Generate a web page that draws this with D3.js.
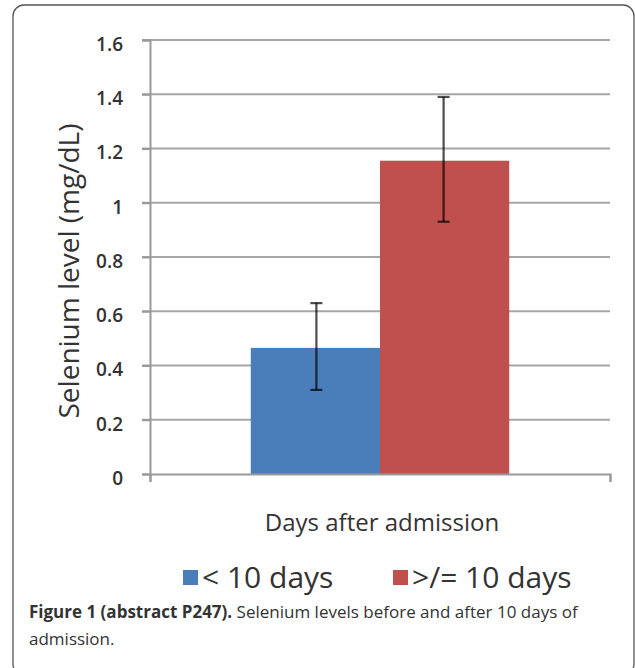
<!DOCTYPE html>
<html>
<head>
<meta charset="utf-8">
<script src="https://cdn.jsdelivr.net/npm/d3@7"></script>
<style>
  body { margin: 0; background: #fff; }
  svg { display: block; }
  text { font-family: "Open Sans", sans-serif; }
</style>
</head>
<body>
<svg width="635" height="668"></svg>
<script>
// data
const category = "Days after admission";
const groups = ["< 10 days", ">/= 10 days"];
const means = [0.465, 1.155];
const errLow = [0.31, 0.93];
const errHigh = [0.63, 1.39];
const colors = ["#4a7ebb", "#c0504d"];
const yTicks = [0, 0.2, 0.4, 0.6, 0.8, 1, 1.2, 1.4, 1.6];

const svg = d3.select("svg");
const plot = { left: 150, right: 610, top: 40, bottom: 474 };

// outer frame (bottom edge runs off the page)
svg.append("rect")
    .attr("x", 13).attr("y", 5)
    .attr("width", 621).attr("height", 670)
    .attr("rx", 11)
    .attr("fill", "none")
    .attr("stroke", "#555")
    .attr("stroke-width", 1.3);

const y = d3.scaleLinear()
    .domain([0, 1.6])
    .range([plot.bottom, plot.top]);

const x0 = d3.scaleBand()
    .domain([category])
    .range([plot.left, plot.right])
    .paddingInner(0)
    .paddingOuter(0.39);

const x1 = d3.scaleBand()
    .domain(groups)
    .range([0, x0.bandwidth()])
    .padding(0);

// gridlines
svg.append("g")
    .selectAll("line")
    .data(yTicks.filter(d => d > 0))
    .join("line")
    .attr("x1", plot.left - 8)
    .attr("x2", plot.right)
    .attr("y1", d => y(d))
    .attr("y2", d => y(d))
    .attr("stroke", "#a6a6a6")
    .attr("stroke-width", 2);

// y axis
svg.append("g")
    .attr("transform", `translate(${plot.left},0)`)
    .call(d3.axisLeft(y).tickValues(yTicks).tickSize(8).tickPadding(19)
        .tickFormat(d => d3.format("")(d)))
    .call(g => g.select(".domain").attr("stroke", "#999").attr("stroke-width", 2))
    .call(g => g.selectAll(".tick line").attr("stroke", "#999").attr("stroke-width", 2))
    .call(g => g.selectAll(".tick text")
        .attr("dy", "0.55em")
        .style("font-size", "19px")
        .style("font-weight", "600")
        .attr("fill", "#333"));

// bars
svg.append("g")
    .selectAll("rect")
    .data(groups)
    .join("rect")
    .attr("x", d => x0(category) + x1(d))
    .attr("y", (d, i) => y(means[i]))
    .attr("width", x1.bandwidth())
    .attr("height", (d, i) => y(0) - y(means[i]))
    .attr("fill", (d, i) => colors[i]);

// x axis
svg.append("g")
    .attr("transform", `translate(0,${plot.bottom})`)
    .call(d3.axisBottom(d3.scaleLinear().domain([0, 1]).range([plot.left, plot.right]))
        .tickValues([0, 1]).tickSize(8).tickFormat(""))
    .call(g => g.select(".domain").attr("stroke", "#999").attr("stroke-width", 2))
    .call(g => g.selectAll(".tick line").attr("stroke", "#999").attr("stroke-width", 2));

// error bars
const eb = svg.append("g")
    .attr("stroke", "#000")
    .attr("stroke-opacity", 0.7)
    .attr("stroke-width", 2.2);
groups.forEach((g, i) => {
    const cx = x0(category) + x1(g) + x1.bandwidth() / 2 + (i === 0 ? 1 : -1);
    eb.append("line")
        .attr("x1", cx).attr("x2", cx)
        .attr("y1", y(errHigh[i])).attr("y2", y(errLow[i]));
    [errHigh[i], errLow[i]].forEach(v => {
        eb.append("line")
            .attr("x1", cx - 6).attr("x2", cx + 6)
            .attr("y1", y(v)).attr("y2", y(v));
    });
});

// y axis title
svg.append("text")
    .attr("transform", `translate(79,${(plot.top + plot.bottom) / 2 + 14}) rotate(-90)`)
    .attr("text-anchor", "middle")
    .style("font-size", "28px")
    .attr("fill", "#333")
    .text("Selenium level (mg/dL)");

// x axis title
svg.append("text")
    .attr("x", 382)
    .attr("y", 531)
    .attr("text-anchor", "middle")
    .style("font-size", "24px")
    .attr("fill", "#333")
    .text(category);

// legend
const legendX = [183, 393];
const legend = svg.append("g");
groups.forEach((g, i) => {
    legend.append("rect")
        .attr("x", legendX[i]).attr("y", 570)
        .attr("width", 15).attr("height", 15)
        .attr("fill", colors[i]);
    legend.append("text")
        .attr("x", legendX[i] + 19)
        .attr("y", 588)
        .style("font-size", "30px")
        .attr("fill", "#333")
        .text(g);
});

// caption
const cap = svg.append("text")
    .attr("x", 29)
    .attr("y", 618)
    .style("font-size", "17px")
    .attr("fill", "#333");
cap.append("tspan")
    .style("font-weight", "bold")
    .text("Figure 1 (abstract P247).");
cap.append("tspan")
    .text(" Selenium levels before and after 10 days of");
svg.append("text")
    .attr("x", 29)
    .attr("y", 645)
    .style("font-size", "17px")
    .attr("fill", "#333")
    .text("admission.");
</script>
</body>
</html>
